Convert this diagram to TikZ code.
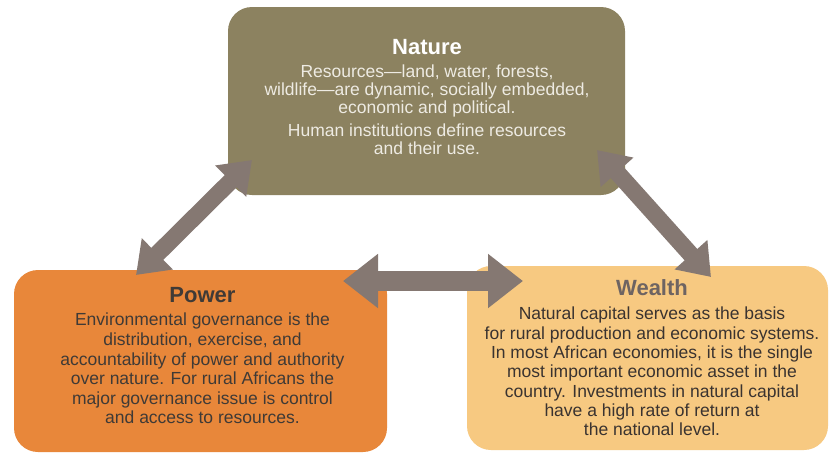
\documentclass[tikz,border=0pt]{standalone}
\usepackage{fontspec}
\setmainfont{Liberation Sans}
\usetikzlibrary{arrows.meta}
\definecolor{naturec}{HTML}{8C8260}
\definecolor{powerc}{HTML}{E8873A}
\definecolor{wealthc}{HTML}{F7C981}
\definecolor{arrowc}{HTML}{857872}
\definecolor{powertxt}{HTML}{3F3A36}
\definecolor{wealthtitle}{HTML}{6E6462}
\definecolor{wealthtxt}{HTML}{3A3330}
\definecolor{naturetxt}{HTML}{EEEBE3}
\begin{document}
\begin{tikzpicture}[x=1pt,y=-1pt,
  box/.style={rectangle, rounded corners=24pt, draw=none, inner sep=0pt},
  titletxt/.style={font=\fontsize{22}{24}\selectfont\bfseries, inner sep=0pt},
  bodytxt/.style={align=center, inner sep=0pt, anchor=north},
  dblarrow/.style={draw=arrowc, line width=17pt,
    {Triangle[width=42pt,length=30pt]}-{Triangle[width=42pt,length=30pt]}},
  harrow/.style={draw=arrowc, line width=20pt,
    {Triangle[width=52pt,length=35pt]}-{Triangle[width=52pt,length=35pt]}}]
\useasboundingbox (0,0) rectangle (829,453);
\fill[white] (0,0) rectangle (829,453);
% boxes
\node[box, fill=naturec, minimum width=397pt, minimum height=188pt] (nature) at (426.5,101) {};
\node[box, fill=powerc, minimum width=373pt, minimum height=182pt] (power) at (200.5,361) {};
\node[box, fill=wealthc, minimum width=361pt, minimum height=184pt] (wealth) at (647.5,358) {};
% texts
\node[titletxt, text=white] (naturetitle) at (427,47) {Nature};
\node[bodytxt, text=naturetxt, font=\fontsize{17.5}{18}\selectfont] (naturebody) at (427,65)
 {Resources—land, water, forests,\\wildlife—are dynamic, socially embedded,\\economic and political.\\[5pt]Human institutions define resources\\and their use.};
\node[titletxt, text=powertxt] (powertitle) at (202.5,295) {Power};
\node[bodytxt, text=powertxt, font=\fontsize{17.5}{19.6}\selectfont] (powerbody) at (202.5,313)
 {Environmental governance is the\\distribution, exercise, and\\accountability of power and authority\\over nature. For rural Africans the\\major governance issue is control\\and access to resources.};
\node[titletxt, text=wealthtitle] (wealthtitle) at (652,288) {Wealth};
\node[bodytxt, text=wealthtxt, font=\fontsize{17.5}{19.3}\selectfont] (wealthbody) at (652,307)
 {Natural capital serves as the basis\\for rural production and economic systems.\\In most African economies, it is the single\\most important economic asset in the\\country. Investments in natural capital\\have a high rate of return at\\the national level.};
% arrow ends
\coordinate (a1n) at (252,160);
\coordinate (a1p) at (136,275);
\coordinate (a2n) at (597,150);
\coordinate (a2w) at (711,277);
\coordinate (a3p) at (343,281);
\coordinate (a3w) at (523,281);
\draw[dblarrow] (a1n) -- (a1p);
\draw[dblarrow] (a2n) -- (a2w);
\draw[harrow] (a3p) -- (a3w);
\end{tikzpicture}
\end{document}
